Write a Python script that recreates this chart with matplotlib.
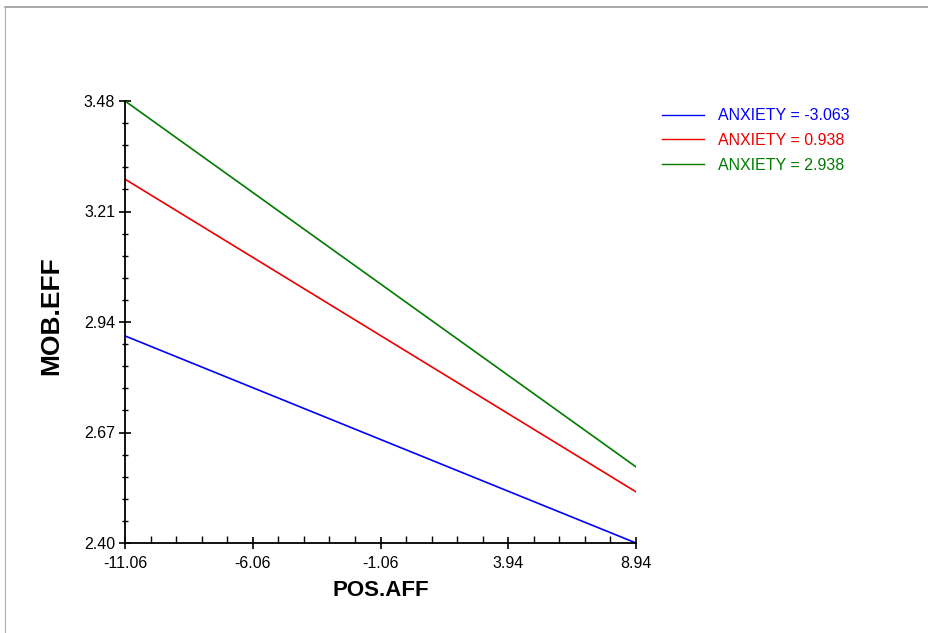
import numpy as np
import matplotlib
matplotlib.use('Agg')
import matplotlib.pyplot as plt
from matplotlib.ticker import FixedLocator
from matplotlib.lines import Line2D

plt.rcParams['font.family'] = ['Liberation Sans', 'DejaVu Sans']

# simple slopes data
pos_aff = [-11.06, 8.94]
anxiety_labels = ['ANXIETY = -3.063', 'ANXIETY = 0.938', 'ANXIETY = 2.938']
mob_low = [2.906, 2.400]
mob_mid = [3.289, 2.525]
mob_high = [3.480, 2.586]
colors = ['#0000ff', '#ee0000', '#007a00']

xticks = [-11.06, -6.06, -1.06, 3.94, 8.94]
yticks = [2.40, 2.67, 2.94, 3.21, 3.48]

fig = plt.figure(figsize=(9.29, 6.33), dpi=100)
ax = fig.add_axes([125/929, 1 - 543/633, (636 - 125)/929, (543 - 101)/633])

for yvals, lab, col in zip([mob_low, mob_mid, mob_high], anxiety_labels, colors):
    ax.plot(pos_aff, yvals, color=col, linewidth=1.2, label=lab)

ax.set_xlim(pos_aff[0], pos_aff[1])
ax.set_ylim(yticks[0], yticks[-1])
ax.set_xticks(xticks)
ax.set_yticks(yticks)
ax.set_xticklabels(['%.2f' % v for v in xticks])
ax.set_yticklabels(['%.2f' % v for v in yticks])
ax.xaxis.set_minor_locator(FixedLocator(np.arange(xticks[0], xticks[-1] + 0.01, 1.0)))
ax.yaxis.set_minor_locator(FixedLocator(np.arange(yticks[0], yticks[-1] + 0.001, 0.054)))

for s in ['top', 'right']:
    ax.spines[s].set_visible(False)
ax.spines['left'].set_linewidth(1.3)
ax.spines['bottom'].set_linewidth(1.3)

ax.tick_params(axis='both', which='major', direction='inout', length=8, width=1.2,
               labelsize=11.5)
ax.tick_params(axis='y', which='major', pad=3)
ax.tick_params(axis='x', which='major', pad=5)
ax.tick_params(axis='y', which='minor', direction='inout', length=5, width=1.0)
ax.tick_params(axis='x', which='minor', direction='in', length=5, width=1.0)

ax.set_xlabel('POS.AFF', fontsize=16, fontweight='bold', labelpad=7)
ax.set_ylabel('MOB.EFF', fontsize=19, fontweight='bold')
ax.yaxis.set_label_coords(-0.12, 0.515)

handles = [Line2D([], [], color=c, linewidth=1.0) for c in colors]
fig.legend(handles, anxiety_labels, loc='upper left', bbox_to_anchor=(648/929, 1 - 94/633),
           frameon=False, fontsize=11.5, handlelength=2.6, handletextpad=0.9,
           labelspacing=0.6, labelcolor=colors)

# thin gray frame on top and left like the original export
fig.add_artist(Line2D([5/929, 1], [1 - 7/633, 1 - 7/633], color='#9a9a9a', linewidth=1.2))
fig.add_artist(Line2D([5/929, 5/929], [0, 1 - 7/633], color='#b0b0b0', linewidth=0.8))

fig.savefig('out.png', dpi=100)
